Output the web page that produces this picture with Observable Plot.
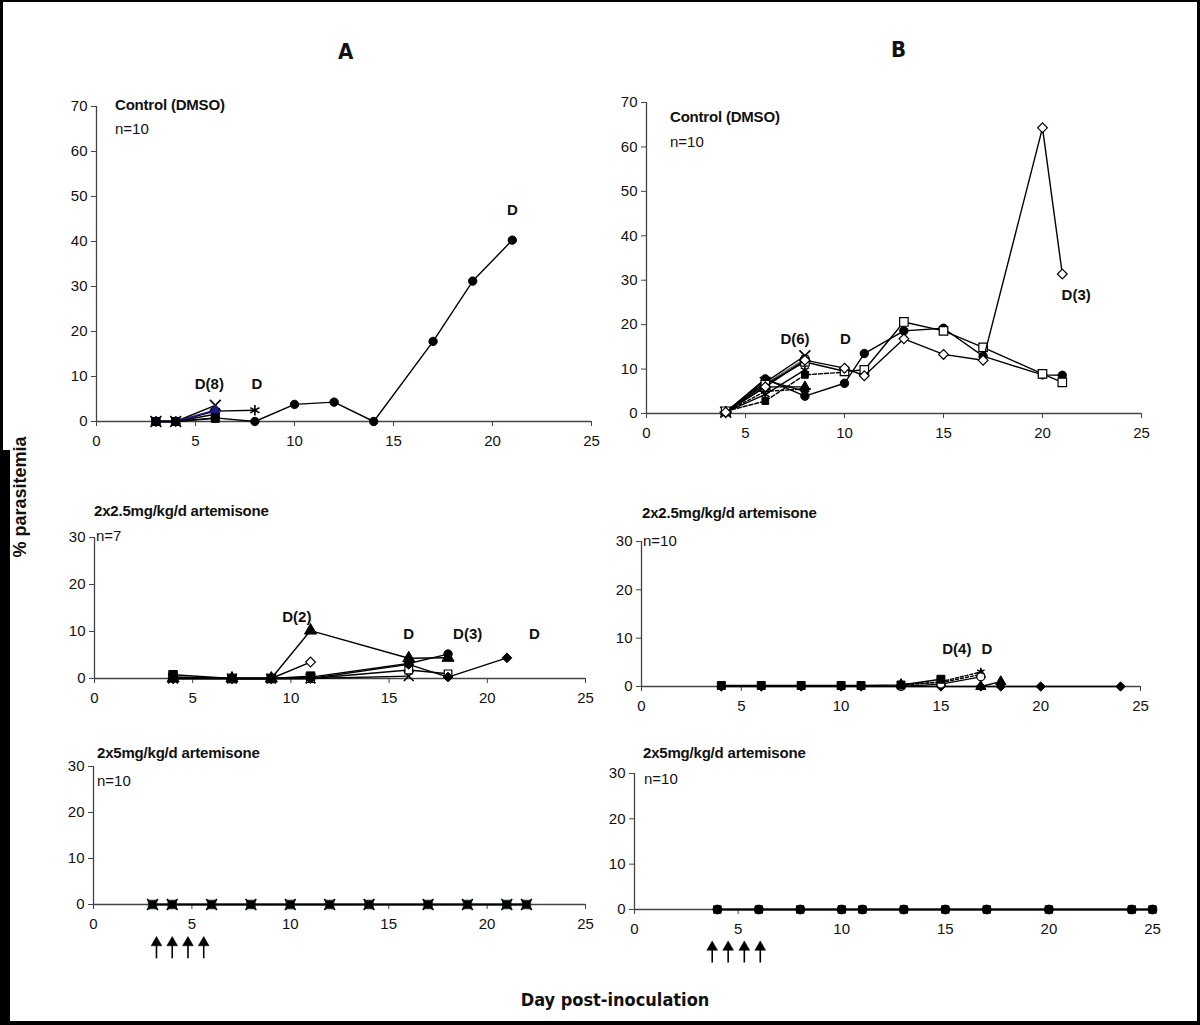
<!DOCTYPE html>
<html>
<head>
<meta charset="utf-8">
<script src="https://cdn.jsdelivr.net/npm/d3@7"></script>
<script src="https://cdn.jsdelivr.net/npm/@observablehq/plot@0.6"></script>
<style>
  html, body { margin: 0; padding: 0; background: #fff; }
  #page { position: relative; width: 1200px; height: 1025px; overflow: hidden; background: #fff;
          font-family: "Liberation Sans", Arial, sans-serif; color: #111; }
  #page svg text { font-family: "Liberation Sans", Arial, sans-serif; font-size: 15px; }
  .abs { position: absolute; white-space: nowrap; line-height: 1; }
  .ttl { font-weight: bold; font-size: 15px; letter-spacing: -0.2px; }
  .nn { font-size: 15px; }
  .hdr { font-family: "Liberation Sans Narrow", "DejaVu Sans Condensed", sans-serif; font-weight: bold; font-size: 22px; }
  .frame { position: absolute; background: #000; }
</style>
</head>
<body>
<div id="page"></div>
<script>
// ---------------- DATA ----------------
const xTicks = [0, 5, 10, 15, 20, 25];
const yTicksTop = [0, 10, 20, 30, 40, 50, 60, 70];
const yTicksLow = [0, 10, 20, 30];

// Panel A – Control (DMSO), n=10
const aCtrlDaysMain = [3, 4, 6, 8, 10, 12, 14, 17, 19, 21];
const aCtrlValsMain = [0, 0, 0.8, 0, 3.8, 4.3, 0, 17.8, 31.2, 40.3];
const aCtrlDaysStar = [3, 4, 6, 8];
const aCtrlValsStar = [0, 0, 2.3, 2.5];
const aCtrlDaysCross = [3, 4, 6];
const aCtrlValsCross = [0, 0, 3.6];
const aCtrlDaysBlue = [3, 4, 6];
const aCtrlValsBlue = [0, 0, 2.6];
const aCtrlDaysDiam = [3, 4, 6];
const aCtrlValsDiam = [0, 0, 1.6];
const aCtrlDaysSq = [3, 4, 6];
const aCtrlValsSq = [0, 0, 0.7];
const aCtrlLabels = ["D(8)", "D", "D"];
const aCtrlLabelDays = [5.7, 8.1, 21.0];
const aCtrlLabelVals = [8.4, 8.4, 46.9];

// Panel B – Control (DMSO), n=10
const bCtrlDays = [4, 6, 8, 10, 11, 13, 15, 17, 20, 21];
const bCtrlOpenDiamond = [0.3, 6.0, 12.0, 10.2, 8.5, 16.8, 13.3, 12.0, 64.3, 31.4];
const bCtrlOpenSquare = [0.5, 6.5, 11.6, 9.5, 9.8, 20.6, 18.6, 14.9, 8.9, 7.0];
const bCtrlFilledCircle = [0.3, 7.8, 3.9, 6.8, 13.5, 18.6, 19.2, 12.9, 8.7, 8.6];
const bCtrlShortDays = [4, 6, 8];
const bCtrlCross = [0.3, 7.0, 13.0];
const bCtrlPlus = [0.3, 5.0, 5.5];
const bCtrlTriangle = [0.3, 6.0, 6.0];
const bCtrlStar = [0.3, 4.3, 9.8];
const bCtrlFilledDiamond = [0.3, 7.5, 5.0];
const bCtrlGrey = [0.3, 6.6, 12.3];
const bCtrlSqDays = [4, 6, 8, 10];
const bCtrlFilledSquare = [0.5, 2.8, 8.7, 9.3];
const bCtrlLabels = ["D(6)", "D", "D(3)"];
const bCtrlLabelDays = [7.5, 10.05, 21.7];
const bCtrlLabelVals = [16.8, 16.8, 26.7];

// Panel A – 2x2.5 mg/kg/d artemisone, n=7
const aLowDaysLong = [4, 7, 9, 11, 16, 18];
const aLowTriangle = [0, 0, 0, 10.2, 4.3, 4.4];
const aLowCircle = [0.3, 0, 0, 0.3, 3.2, 5.2];
const aLowOpenSquare = [0.3, 0, 0, 0, 1.8, 1.0];
const aLowDaysShort = [4, 7, 9, 11];
const aLowOpenDiamond = [0, 0, 0, 3.5];
const aLowFilledSquare = [0.8, 0, 0, 0.5];
const aLowDaysDiam = [4, 7, 9, 11, 16, 18, 21];
const aLowFilledDiamond = [0, 0, 0, 0, 3.0, 0.3, 4.4];
const aLowDaysCross = [4, 7, 9, 11, 16];
const aLowCross = [0, 0, 0, 0, 0.5];
const aLowLabels = ["D(2)", "D", "D(3)", "D"];
const aLowLabelDays = [10.3, 16.0, 19.0, 22.4];
const aLowLabelVals = [13.0, 9.4, 9.4, 9.4];

// Panel B – 2x2.5 mg/kg/d artemisone, n=10
const bLowDaysDiam = [4, 6, 8, 10, 11, 13, 15, 17, 18, 20, 24];
const bLowFilledDiamond = [0, 0, 0, 0, 0, 0, 0, 0, 0, 0, 0];
const bLowDaysSq = [4, 6, 8, 10, 11, 13, 15];
const bLowFilledSquare = [0.2, 0.2, 0.2, 0.2, 0.2, 0.3, 1.5];
const bLowDaysLate = [13, 15, 17];
const bLowOpenCircle = [0, 0.5, 2.0];
const bLowStar = [0.2, 1.0, 3.0];
const bLowTriangle = [0.5, 0.8, 2.5];
const bLowDaysTri = [17, 18];
const bLowFilledTriangle = [0, 1.0];
const bLowLabels = ["D(4)", "D"];
const bLowLabelDays = [15.8, 17.3];
const bLowLabelVals = [7.7, 7.7];

// Panel A – 2x5 mg/kg/d artemisone, n=10
const aHighDays = [3, 4, 6, 8, 10, 12, 14, 17, 19, 21, 22];
const aHighVals = [0, 0, 0, 0, 0, 0, 0, 0, 0, 0, 0];
// Panel B – 2x5 mg/kg/d artemisone, n=10
const bHighDays = [4, 6, 8, 10, 11, 13, 15, 17, 20, 24, 25];
const bHighVals = [0, 0, 0, 0, 0, 0, 0, 0, 0, 0, 0];

// Treatment arrows (days)
const aArrowDays = [3.2, 4.0, 4.8, 5.6];
const bArrowDays = [3.75, 4.52, 5.3, 6.07];

// ---------------- HELPERS ----------------
function rows(days, vals) { return days.map((d, i) => ({day: d, v: vals[i]})); }

function series(days, vals, symbol, fill, extra = {}) {
  const data = rows(days, vals);
  const stroke = extra.stroke || "#000";
  const marks = [
    Plot.line(data, {x: "day", y: "v", stroke, strokeWidth: extra.lw || 1.4, strokeDasharray: extra.dash})
  ];
  if (symbol) {
    const open = fill === "white";
    const lineSym = symbol === "times" || symbol === "asterisk" || symbol === "plus";
    marks.push(Plot.dot(data, {
      x: "day", y: "v", symbol, r: extra.r || 3.8,
      fill: lineSym ? "none" : fill,
      stroke: extra.mstroke || "#000",
      strokeWidth: lineSym ? 1.6 : (open ? 1.2 : 1)
    }));
  }
  return marks;
}

function labels(texts, days, vals) {
  return Plot.text(texts.map((t, i) => ({t, day: days[i], v: vals[i]})), {
    x: "day", y: "v", text: "t", fontWeight: "bold", fontSize: 15, fill: "#111"
  });
}

const page = document.getElementById("page");

function panel(cfg) {
  const mL = 45, mR = 20, mT = 12, mB = cfg.mB || 30;
  const width = (cfg.x25 - cfg.x0) + mL + mR;
  const height = (cfg.y0 - cfg.ytop) + mT + mB;
  const chart = Plot.plot({
    width, height, marginLeft: mL, marginRight: mR, marginTop: mT, marginBottom: mB,
    x: {domain: [0, 25]},
    y: {domain: [0, cfg.ymax]},
    style: {fontFamily: "'Liberation Sans', Arial, sans-serif", fontSize: "15px", color: "#111", background: "transparent", overflow: "visible"},
    marks: [
      Plot.axisX({ticks: xTicks, tickSize: 5, tickPadding: 9, stroke: "#444", fontSize: 15, label: null}),
      Plot.axisY({ticks: cfg.yticks, tickSize: 5, tickPadding: 4, stroke: "#444", fontSize: 15, label: null}),
      Plot.ruleY([0], {stroke: "#444", strokeWidth: 1.3}),
      Plot.ruleX([0], {stroke: "#444", strokeWidth: 1.3}),
      ...cfg.marks
    ]
  });
  chart.style.position = "absolute";
  chart.style.left = (cfg.x0 - mL) + "px";
  chart.style.top = (cfg.ytop - mT) + "px";
  chart.style.overflow = "visible";
  page.appendChild(chart);
}

function arrows(days) {
  return [
    Plot.ruleX(days, {x: d => d, y1: -11.8, y2: -8.2, stroke: "#000", strokeWidth: 1.6}),
    Plot.dot(days, {x: d => d, y: -8.3, symbol: "triangle", r: 4, fill: "#000", stroke: "#000", strokeWidth: 0.5})
  ];
}

// ---------------- PANELS ----------------
// A top
panel({
  x0: 96, x25: 591, ytop: 106, y0: 421, ymax: 70, yticks: yTicksTop,
  marks: [
    ...series(aCtrlDaysMain, aCtrlValsMain, "circle", "#000", {r: 4.2}),
    ...series(aCtrlDaysStar, aCtrlValsStar, "asterisk", "none", {r: 5}),
    ...series(aCtrlDaysCross, aCtrlValsCross, "times", "none", {r: 5}),
    ...series(aCtrlDaysDiam, aCtrlValsDiam, "diamond2", "#000", {r: 3.5}),
    ...series(aCtrlDaysBlue, aCtrlValsBlue, "triangle", "#1c1c8a", {stroke: "#1c1c8a", mstroke: "#1c1c8a", r: 3.5}),
    ...series(aCtrlDaysSq, aCtrlValsSq, "square", "#000", {r: 4.5}),
    labels(aCtrlLabels, aCtrlLabelDays, aCtrlLabelVals)
  ]
});

// B top
panel({
  x0: 646, x25: 1141, ytop: 102, y0: 413, ymax: 70, yticks: yTicksTop,
  marks: [
    ...series(bCtrlShortDays, bCtrlGrey, "square", "#bbb", {stroke: "#666"}),
    ...series(bCtrlShortDays, bCtrlPlus, "plus", "none", {r: 4, dash: "3,2"}),
    ...series(bCtrlShortDays, bCtrlTriangle, "triangle", "#000"),
    ...series(bCtrlShortDays, bCtrlFilledDiamond, "diamond2", "#000"),
    ...series(bCtrlShortDays, bCtrlStar, "asterisk", "none", {r: 4.5}),
    ...series(bCtrlSqDays, bCtrlFilledSquare, "square", "#000", {dash: "4,2"}),
    ...series(bCtrlShortDays, bCtrlCross, "times", "none", {r: 5}),
    ...series(bCtrlDays, bCtrlFilledCircle, "circle", "#000", {r: 4.2}),
    ...series(bCtrlDays, bCtrlOpenSquare, "square", "white", {r: 4.8}),
    ...series(bCtrlDays, bCtrlOpenDiamond, "diamond2", "white", {r: 4.4}),
    labels(bCtrlLabels, bCtrlLabelDays, bCtrlLabelVals)
  ]
});

// A middle
panel({
  x0: 94, x25: 585, ytop: 537, y0: 678, ymax: 30, yticks: yTicksLow,
  marks: [
    ...series(aLowDaysCross, aLowCross, "times", "none", {r: 4.5}),
    ...series(aLowDaysLong, aLowOpenSquare, "square", "white", {r: 4.3}),
    ...series(aLowDaysDiam, aLowFilledDiamond, "diamond2", "#000", {r: 4.4}),
    ...series(aLowDaysLong, aLowCircle, "circle", "#000", {r: 4.2}),
    ...series(aLowDaysShort, aLowOpenDiamond, "diamond2", "white", {r: 4.4}),
    ...series(aLowDaysShort, aLowFilledSquare, "square", "#000", {r: 4.8}),
    ...series(aLowDaysLong, aLowTriangle, "triangle", "#000", {r: 4.5}),
    labels(aLowLabels, aLowLabelDays, aLowLabelVals)
  ]
});

// B middle
panel({
  x0: 641, x25: 1140, ytop: 541, y0: 686, ymax: 30, yticks: yTicksLow,
  marks: [
    ...series(bLowDaysDiam, bLowFilledDiamond, "diamond2", "#000", {r: 4.2}),
    ...series(bLowDaysLate, bLowTriangle, "triangle", "#000", {r: 3.5, dash: "3,2"}),
    ...series(bLowDaysLate, bLowStar, "asterisk", "none", {r: 4, dash: "3,2"}),
    ...series(bLowDaysLate, bLowOpenCircle, "circle", "white", {r: 4}),
    ...series(bLowDaysTri, bLowFilledTriangle, "triangle", "#000", {r: 3.8}),
    ...series(bLowDaysSq, bLowFilledSquare, "square", "#000", {r: 4.5}),
    labels(bLowLabels, bLowLabelDays, bLowLabelVals)
  ]
});

// A bottom
panel({
  x0: 93, x25: 585, ytop: 766, y0: 904, ymax: 30, yticks: yTicksLow, mB: 70,
  marks: [
    ...series(aHighDays, aHighVals, "square", "#000", {r: 4.8, mstroke: "#1d3b3b", lw: 1.8}),
    ...series(aHighDays, aHighVals, "times", "none", {r: 5}),
    ...arrows(aArrowDays)
  ]
});

// B bottom
panel({
  x0: 634, x25: 1152, ytop: 773, y0: 909, ymax: 30, yticks: yTicksLow, mB: 70,
  marks: [
    ...series(bHighDays, bHighVals, "circle", "#000", {r: 4.4, lw: 1.8}),
    ...series(bHighDays, bHighVals, "square", "#000", {r: 4.2}),
    ...arrows(bArrowDays)
  ]
});

// ---------------- TEXT ----------------
function addText(txt, cls, x, y, extraStyle = "") {
  const d = document.createElement("div");
  d.className = "abs " + cls;
  d.textContent = txt;
  d.style.cssText += `left:${x}px;top:${y}px;` + extraStyle;
  page.appendChild(d);
  return d;
}
const titleCtrl = "Control (DMSO)";
const titleLow = "2x2.5mg/kg/d artemisone";
const titleHigh = "2x5mg/kg/d artemisone";

addText("A", "hdr", 338, 41);
addText("B", "hdr", 891, 39);

addText(titleCtrl, "ttl", 115, 97);
addText("n=10", "nn", 115, 121);
addText(titleCtrl, "ttl", 670, 109);
addText("n=10", "nn", 670, 134);

addText(titleLow, "ttl", 94, 503);
addText("n=7", "nn", 96, 528);
addText(titleLow, "ttl", 642, 505);
addText("n=10", "nn", 643, 533);

addText(titleHigh, "ttl", 97, 745);
addText("n=10", "nn", 97, 773);
addText(titleHigh, "ttl", 643, 745);
addText("n=10", "nn", 644, 771);

// axis titles
addText("% parasitemia", "", 20, 497,
  "font-weight:bold;font-size:18px;transform:translate(-50%,-50%) rotate(-90deg);");
addText("Day post-inoculation", "", 615, 1000,
  "font-family:'Liberation Sans Narrow','DejaVu Sans Condensed',sans-serif;font-weight:bold;font-size:18px;transform:translate(-50%,-50%);");

// frame
[[0, 0, 1200, 2], [0, 0, 3, 1025], [1197, 0, 3, 1025], [0, 1021, 1200, 4], [0, 450, 10, 575]].forEach(([x, y, w, h]) => {
  const f = document.createElement("div");
  f.className = "frame";
  f.style.cssText = `left:${x}px;top:${y}px;width:${w}px;height:${h}px;`;
  page.appendChild(f);
});
</script>
</body>
</html>
